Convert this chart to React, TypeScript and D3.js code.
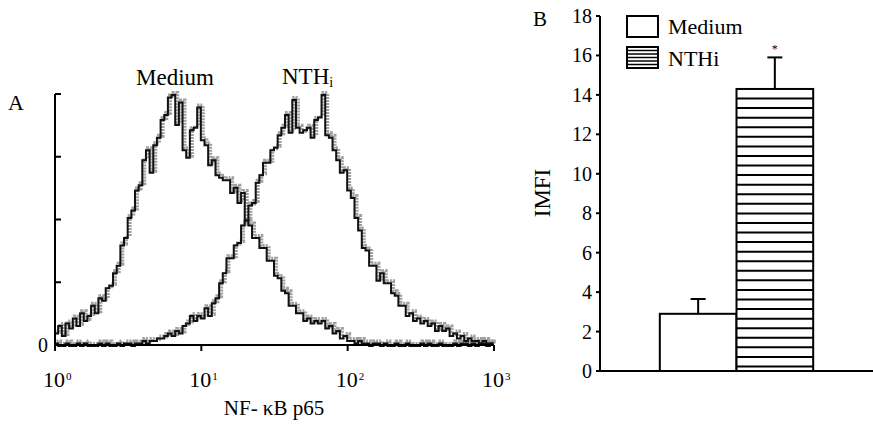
import React from "react";
import * as d3 from "d3";

// ---- Panel A: flow cytometry histograms (40 channels per decade, 10^0..10^3)
const BINS_PER_DECADE = 40;
const MEDIUM_COUNTS = [
  5, 8, 4, 9, 7, 11, 8, 13, 10, 12,
  16, 13, 19, 18, 23, 24, 29, 32, 40, 43,
  51, 54, 62, 64, 74, 78, 69, 80, 83, 90,
  92, 99, 100, 88, 97, 78, 75, 86, 87, 95,
  82, 80, 72, 74, 68, 67, 66, 66, 61, 63,
  57, 61, 50, 48, 43, 43, 39, 39, 34, 34,
  28, 27, 22, 21, 16, 16, 13, 13, 10, 11,
  9, 10, 9, 10, 7, 8, 5, 6, 3, 4,
  2, 2, 1, 2, 1, 1, 0, 1, 1, 0,
  1, 0, 0, 1, 0, 0, 1, 0, 0, 0,
  1, 0, 1, 0, 0, 1, 0, 0, 0, 1,
  0, 1, 1, 0, 1, 0, 1, 1, 0, 1,
];
const NTHI_COUNTS = [
  1, 0, 0, 1, 0, 0, 1, 0, 1, 0,
  0, 0, 1, 0, 1, 0, 0, 1, 0, 1,
  1, 0, 1, 1, 2, 1, 2, 2, 3, 3,
  4, 5, 4, 6, 5, 8, 9, 12, 10, 12,
  11, 15, 12, 17, 19, 25, 29, 35, 35, 40,
  41, 48, 50, 56, 57, 65, 68, 73, 73, 78,
  79, 84, 87, 92, 85, 98, 87, 85, 86, 87,
  83, 90, 91, 100, 84, 83, 78, 74, 69, 70,
  62, 59, 51, 46, 39, 38, 32, 32, 26, 29,
  25, 25, 21, 20, 16, 16, 12, 13, 10, 11,
  9, 10, 8, 9, 6, 8, 6, 7, 4, 5,
  3, 4, 2, 3, 2, 2, 1, 2, 1, 1,
];
const A_X_TICKS = [1, 10, 100, 1000];
const A_X_EXPONENTS = ["0", "1", "2", "3"];
const A_Y_TICKS = [0, 25, 50, 75, 100];
const A_LABELS = ["Medium", "NTH"];

// ---- Panel B: IMFI bars
const B_CATEGORIES = ["Medium", "NTHi"];
const B_VALUES = [2.9, 14.3];
const B_ERRORS = [0.75, 1.6];
const B_Y_TICKS = [0, 2, 4, 6, 8, 10, 12, 14, 16, 18];

const FONT = "'Liberation Serif', 'DejaVu Serif', serif";

export default function App() {
  const xA = d3.scaleLog().domain([1, 1000]).range([55, 494]);
  const yA = d3.scaleLinear().domain([0, 100]).range([345, 94]);

  const toPts = (counts: number[]) => {
    const pts: [number, number][] = counts.map((c, k) => [
      Math.pow(10, k / BINS_PER_DECADE),
      c,
    ]);
    pts.push([1000, counts[counts.length - 1]]);
    return pts;
  };
  const line = d3
    .line<[number, number]>()
    .x((d) => xA(d[0]))
    .y((d) => yA(d[1]))
    .curve(d3.curveStepAfter);

  const medPath = line(toPts(MEDIUM_COUNTS)) || "";
  const nthPath = line(toPts(NTHI_COUNTS)) || "";

  const xB = d3
    .scaleBand<string>()
    .domain(B_CATEGORIES)
    .range([600, 873])
    .paddingInner(0)
    .paddingOuter(0.78);
  const yB = d3.scaleLinear().domain([0, 18]).range([371, 16]);

  const bw = xB.bandwidth();
  const nthTop = yB(B_VALUES[1]);
  const stripeStep = 9.57;
  const stripes = d3.range(nthTop + stripeStep, yB(0) - 2, stripeStep);

  return (
    <svg
      width={873}
      height={431}
      style={{ position: "absolute", left: 0, top: 0, background: "#fff" }}
      fontFamily={FONT}
    >
      <rect x={0} y={0} width={873} height={431} fill="#fff" />
      {/* ================= Panel A ================= */}
      <text x={8} y={110} fontSize={22}>A</text>
      <text x={175} y={85} fontSize={23} textAnchor="middle">{A_LABELS[0]}</text>
      <text x={282} y={84} fontSize={23}>
        {A_LABELS[1]}
        <tspan fontSize={14} dy={3}>i</tspan>
      </text>

      <g fill="none" strokeLinejoin="miter">
        <path d={medPath} stroke="#a0a0a0" strokeWidth={4} strokeDasharray="2 1" transform="translate(1.5,-1)" />
        <path d={nthPath} stroke="#a0a0a0" strokeWidth={4} strokeDasharray="2 1" transform="translate(1.5,-1)" />
        <path d={medPath} stroke="#111" strokeWidth={2} transform="translate(-0.5,1)" />
        <path d={nthPath} stroke="#111" strokeWidth={2} transform="translate(-0.5,1)" />
      </g>

      <g stroke="#000" strokeWidth={2} fill="none">
        <line x1={xA(1)} x2={xA(1000)} y1={yA(0)} y2={yA(0)} />
        <line x1={xA(1)} x2={xA(1)} y1={yA(100)} y2={yA(0) + 6} />
        {A_X_TICKS.map((t) => (
          <line key={t} x1={xA(t)} x2={xA(t)} y1={yA(0)} y2={yA(0) + 6} />
        ))}
        {A_Y_TICKS.filter((t) => t > 0).map((t) => (
          <line key={t} x1={xA(1)} x2={xA(1) + 6} y1={yA(t)} y2={yA(t)} />
        ))}
      </g>
      <text x={43} y={352} fontSize={20} textAnchor="middle">0</text>
      {A_X_TICKS.map((t, i) => (
        <g key={t}>
          <text x={xA(t) - 1} y={387} fontSize={22} textAnchor="middle">10</text>
          <text x={xA(t) + 11} y={380} fontSize={11}>{A_X_EXPONENTS[i]}</text>
        </g>
      ))}
      <text x={274} y={415} fontSize={21} textAnchor="middle">NF- κB p65</text>

      {/* ================= Panel B ================= */}
      <text x={533} y={26} fontSize={21}>B</text>
      <text transform={`translate(550,193) rotate(-90)`} fontSize={23} textAnchor="middle">
        IMFI
      </text>

      <g stroke="#000" strokeWidth={2}>
        {B_CATEGORIES.map((c, i) => {
          const cx = (xB(c) as number) + bw / 2;
          return (
            <g key={c}>
              <line x1={cx} x2={cx} y1={yB(B_VALUES[i])} y2={yB(B_VALUES[i] + B_ERRORS[i])} />
              <line x1={cx - 7.5} x2={cx + 7.5} y1={yB(B_VALUES[i] + B_ERRORS[i])} y2={yB(B_VALUES[i] + B_ERRORS[i])} />
            </g>
          );
        })}
        <rect
          x={xB(B_CATEGORIES[0])}
          y={yB(B_VALUES[0])}
          width={bw}
          height={yB(0) - yB(B_VALUES[0])}
          fill="#fff"
        />
        <rect x={xB(B_CATEGORIES[1])} y={nthTop} width={bw} height={yB(0) - nthTop} fill="#fff" />
        {stripes.map((y, i) => (
          <line
            key={i}
            x1={xB(B_CATEGORIES[1]) as number}
            x2={(xB(B_CATEGORIES[1]) as number) + bw}
            y1={y}
            y2={y}
          />
        ))}
      </g>
      <text
        x={(xB(B_CATEGORIES[1]) as number) + bw / 2}
        y={yB(B_VALUES[1] + B_ERRORS[1]) - 4}
        fontSize={12}
        textAnchor="middle"
      >
        *
      </text>

      <g stroke="#000" strokeWidth={2}>
        <line x1={600} x2={600} y1={yB(18)} y2={yB(0)} />
        <line x1={599} x2={873} y1={yB(0)} y2={yB(0)} />
        {B_Y_TICKS.map((t) => (
          <line key={t} x1={596} x2={600} y1={yB(t)} y2={yB(t)} />
        ))}
      </g>
      {B_Y_TICKS.map((t) => (
        <text key={t} x={592} y={yB(t) + 7} fontSize={20} textAnchor="end">
          {t}
        </text>
      ))}

      <g stroke="#000" strokeWidth={2} fill="#fff">
        <rect x={627} y={16} width={31} height={21} />
        <rect x={627} y={47} width={31} height={21} />
        {d3.range(1, 6).map((i) => (
          <line key={i} x1={627} x2={658} y1={47 + i * 3.5} y2={47 + i * 3.5} strokeWidth={1.5} />
        ))}
      </g>
      <text x={668} y={34} fontSize={22}>{B_CATEGORIES[0]}</text>
      <text x={668} y={66} fontSize={22}>{B_CATEGORIES[1]}</text>
    </svg>
  );
}
